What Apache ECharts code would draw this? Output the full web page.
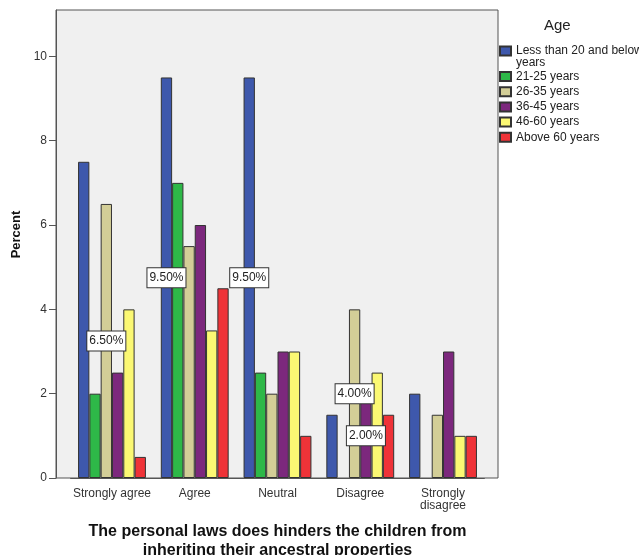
<!DOCTYPE html>
<html>
<head>
<meta charset="utf-8">
<script src="https://cdn.jsdelivr.net/npm/echarts@6/dist/echarts.min.js"></script>
<style>html,body{margin:0;padding:0;background:#fff;}#c{width:639px;height:555px;}</style>
</head>
<body>
<div id="c"></div>
<script>
const categories = ['Strongly agree', 'Agree', 'Neutral', 'Disagree', 'Strongly\ndisagree'];
const seriesNames = ['Less than 20 and below years', '21-25 years', '26-35 years', '36-45 years', '46-60 years', 'Above 60 years'];
const lessThan20 = [7.5, 9.5, 9.5, 1.5, 2];
const age21to25 = [2, 7, 2.5, null, null];
const age26to35 = [6.5, 5.5, 2, 4, 1.5];
const age36to45 = [2.5, 6, 3, 2, 3];
const age46to60 = [4, 3.5, 3, 2.5, 1];
const above60 = [0.5, 4.5, 1, 1.5, 1];
const yTicks = [0, 2, 4, 6, 8, 10];
// bars carrying a value label: [seriesIndex, categoryIndex]
const labelledBars = [[2, 0], [0, 1], [0, 2], [2, 3], [3, 3]];

const colors = ['#3E58AC', '#2EB848', '#D3CE97', '#7C287D', '#FBF873', '#EF3338'];
const allData = [lessThan20, age21to25, age26to35, age36to45, age46to60, above60];
const FONT = 'Arial, "Liberation Sans", sans-serif';

const chart = echarts.init(document.getElementById('c'));
const series = allData.map((arr, si) => ({
  name: seriesNames[si],
  type: 'bar',
  barGap: '0%',
  barCategoryGap: '18%',
  itemStyle: { color: colors[si], borderColor: '#333', borderWidth: 1 },
  emphasis: { disabled: true },
  data: arr.map((v, ci) => {
    const lab = labelledBars.some(p => p[0] === si && p[1] === ci);
    return lab ? {
      value: v,
      label: {
        show: true, position: 'inside',
        formatter: p => p.value.toFixed(2) + '%',
        color: '#222', fontSize: 12, fontFamily: FONT,
        backgroundColor: '#fff', borderColor: '#333', borderWidth: 1,
        padding: [4, 2, 3, 2]
      }
    } : v;
  })
}));

chart.setOption({
  animation: false,
  backgroundColor: '#fff',
  grid: { left: 70.6, right: 154.6, top: 10, bottom: 77, containLabel: false, outerBoundsMode: 'none' },
  graphic: [
    { type: 'rect', z: -10, shape: { x: 56, y: 10, width: 442, height: 468 },
      style: { fill: '#F0F0F0', stroke: '#555', lineWidth: 1 } },
    { type: 'text', left: 544, top: 18,
      style: { text: 'Age', fontSize: 15, fontFamily: FONT, fill: '#222' } }
  ],
  legend: [
    {
      data: [seriesNames[0]],
      formatter: () => '\nLess than 20 and below\nyears',
      orient: 'vertical', left: 499, top: 33.5, padding: 0,
      itemWidth: 11, itemHeight: 9, icon: 'rect', selectedMode: false,
      textStyle: { fontSize: 12, lineHeight: 11.5, color: '#222', fontFamily: FONT }
    },
    {
      data: seriesNames.slice(1),
      orient: 'vertical', left: 499, top: 69, padding: 0, itemGap: 0.2,
      itemWidth: 11, itemHeight: 9, icon: 'rect', selectedMode: false,
      textStyle: { fontSize: 12, lineHeight: 15, color: '#222', fontFamily: FONT }
    }
  ],
  xAxis: {
    type: 'category',
    data: categories,
    name: 'The personal laws does hinders the children from\ninheriting their ancestral properties',
    nameLocation: 'middle',
    nameGap: 44,
    nameTextStyle: { fontSize: 16, fontWeight: 'bold', color: '#111', fontFamily: FONT, lineHeight: 19 },
    axisLine: { lineStyle: { color: '#555' } },
    axisTick: { alignWithLabel: true, length: 7, lineStyle: { color: '#555' } },
    axisLabel: { fontSize: 12, color: '#333', fontFamily: FONT, margin: 10, lineHeight: 12, interval: 0 }
  },
  yAxis: {
    type: 'value',
    min: 0, max: 11.1, interval: 2,
    offset: 14.6,
    name: 'Percent',
    nameLocation: 'middle',
    nameGap: 32,
    nameTextStyle: { fontSize: 13, fontWeight: 'bold', color: '#111', fontFamily: FONT, padding: [0, 0, 0, 19] },
    splitLine: { show: false },
    axisLine: { show: true, lineStyle: { color: '#555' } },
    axisTick: { show: true, length: 7, customValues: yTicks, lineStyle: { color: '#555' } },
    axisLabel: { fontSize: 12, color: '#333', fontFamily: FONT, margin: 9, customValues: yTicks }
  },
  series: series
});
</script>
</body>
</html>
